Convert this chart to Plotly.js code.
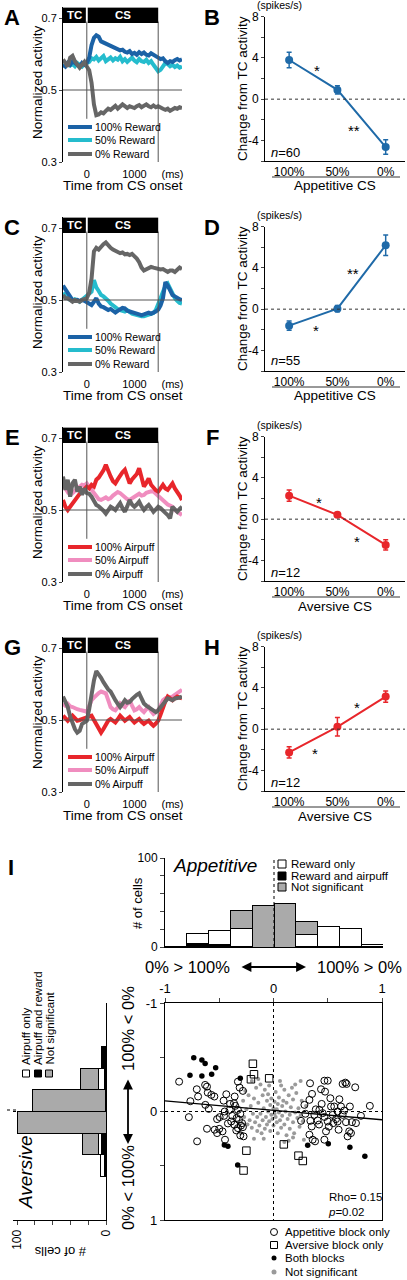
<!DOCTYPE html>
<html><head><meta charset="utf-8">
<script src="https://cdn.plot.ly/plotly-3.0.1.min.js"></script>
<style>html,body{margin:0;padding:0;background:#fff;}#chart{width:407px;height:1280px;}</style>
</head><body><div id="chart"></div>
<script>
// ---------- DATA ----------
const t = [-500,-450,-400,-350,-300,-250,-200,-150,-100,-50,0,50,100,150,200,250,300,350,400,450,500,550,600,650,700,750,800,850,900,950,1000,1050,1100,1150,1200,1250,1300,1350,1400,1450,1500,1550,1600,1650,1700,1750,1800,1850,1900,1950,2000];

const A_reward100 = [.57,.565,.575,.57,.58,.575,.57,.565,.575,.57,.575,.59,.625,.645,.652,.648,.635,.632,.628,.625,.622,.62,.618,.615,.61,.612,.606,.604,.608,.6,.603,.598,.605,.6,.604,.598,.596,.602,.597,.594,.59,.586,.588,.58,.575,.58,.578,.583,.586,.582,.585];
const A_reward50 = [.565,.57,.575,.568,.572,.566,.575,.57,.565,.572,.575,.578,.588,.585,.592,.582,.588,.594,.58,.586,.59,.582,.588,.584,.592,.58,.586,.578,.585,.59,.582,.577,.586,.58,.578,.584,.575,.58,.57,.562,.552,.556,.568,.575,.572,.566,.57,.564,.568,.562,.565];
const A_reward0 = [.585,.575,.565,.59,.595,.58,.572,.562,.57,.578,.565,.555,.52,.46,.43,.432,.438,.435,.442,.448,.445,.452,.456,.448,.455,.46,.455,.45,.455,.452,.45,.455,.458,.452,.456,.46,.455,.452,.457,.452,.455,.45,.448,.445,.448,.442,.445,.45,.448,.452,.45];

const C_reward100 = [.54,.53,.52,.51,.5,.498,.5,.497,.5,.498,.495,.49,.486,.495,.505,.49,.482,.48,.477,.472,.475,.468,.465,.47,.474,.478,.477,.47,.468,.465,.464,.462,.46,.458,.46,.462,.465,.462,.464,.468,.473,.485,.505,.55,.54,.525,.514,.51,.505,.502,.5];
const C_reward50 = [.52,.51,.505,.5,.498,.502,.5,.495,.5,.505,.51,.515,.523,.555,.535,.525,.514,.51,.505,.498,.49,.485,.477,.475,.472,.47,.468,.472,.466,.462,.46,.458,.456,.455,.455,.458,.46,.462,.464,.472,.486,.505,.523,.538,.545,.53,.514,.505,.498,.492,.49];
const C_reward0 = [.514,.505,.505,.498,.495,.5,.497,.495,.5,.502,.505,.52,.56,.635,.645,.64,.65,.655,.66,.65,.645,.64,.636,.633,.63,.632,.627,.628,.625,.628,.623,.615,.605,.59,.582,.585,.59,.592,.59,.588,.586,.585,.586,.582,.578,.582,.582,.578,.585,.59,.586];

const E_airpuff100 = [.528,.509,.5,.51,.519,.53,.537,.545,.551,.56,.565,.56,.57,.565,.584,.59,.598,.61,.626,.605,.593,.58,.574,.585,.598,.605,.612,.59,.574,.585,.593,.6,.616,.585,.565,.575,.588,.57,.56,.555,.551,.56,.57,.56,.556,.565,.574,.56,.547,.54,.528];
const E_airpuff50 = [.565,.56,.55,.555,.547,.552,.56,.565,.57,.568,.574,.565,.556,.545,.537,.53,.528,.532,.535,.53,.533,.54,.545,.55,.547,.54,.535,.53,.528,.533,.537,.54,.545,.54,.542,.548,.55,.552,.551,.545,.537,.532,.528,.52,.515,.512,.509,.5,.495,.49,.486];
const E_airpuff0 = [.593,.556,.584,.537,.574,.584,.551,.565,.542,.56,.547,.545,.537,.525,.514,.51,.505,.498,.49,.5,.509,.505,.5,.51,.519,.505,.495,.51,.528,.515,.509,.515,.523,.51,.5,.508,.514,.505,.495,.502,.509,.505,.5,.492,.486,.477,.509,.5,.495,.503,.509];

const G_airpuff100 = [.512,.505,.498,.505,.512,.505,.498,.5,.503,.506,.508,.51,.512,.5,.489,.475,.465,.475,.489,.498,.503,.498,.493,.502,.512,.505,.498,.503,.508,.5,.493,.498,.503,.495,.489,.494,.498,.49,.484,.49,.498,.515,.536,.552,.565,.56,.555,.56,.565,.562,.56];
const G_airpuff50 = [.546,.54,.545,.538,.536,.532,.53,.528,.527,.525,.522,.54,.555,.562,.57,.575,.579,.576,.574,.555,.536,.53,.527,.535,.546,.54,.536,.545,.555,.54,.527,.53,.536,.528,.522,.53,.536,.525,.517,.522,.527,.54,.555,.56,.562,.565,.565,.57,.575,.58,.584];
const G_airpuff0 = [.565,.55,.536,.51,.489,.475,.465,.47,.489,.495,.498,.53,.574,.61,.636,.628,.617,.605,.593,.585,.579,.565,.555,.545,.536,.545,.555,.548,.55,.558,.565,.57,.574,.56,.546,.54,.536,.53,.527,.522,.527,.535,.541,.55,.56,.558,.555,.56,.56,.562,.565];

const csCats = ['100%','50%','0%'];
const B_mean = [3.8,0.9,-4.65],  B_err = [0.76,0.4,0.7];
const D_mean = [-1.6,0.05,6.2],  D_err = [0.45,0.3,1.0];
const F_mean = [2.28,0.42,-2.5], F_err = [0.55,0.2,0.5];
const H_mean = [-2.26,0.23,3.16],H_err = [0.55,0.9,0.55];

const binCenters = [-0.9,-0.7,-0.5,-0.3,-0.1,0.1,0.3,0.5,0.7,0.9];
const app_rewardAirpuff = [0,4,3,1,0,0,1,1,1,1];
const app_rewardOnly    = [0,11,15,20,0,0,13,22,20,2];
const app_notSig        = [1,0,0,20,47,49,15,0,0,0];
const av_airpuffReward  = [0,0,5,2,1,0,5,2,0,0];
const av_airpuffOnly    = [0,0,0,6,0,0,3,4,0,0];
const av_notSig         = [0,0,0,21,82,100,18,0,0,0];

const appOnly_x = [-0.87,-0.766,-0.78,-0.707,-0.695,-0.63,-0.613,-0.606,-0.573,-0.545,-0.628,-0.597,-0.704,-0.613,-0.542,-0.52,-0.52,-0.496,-0.456,-0.45,-0.47,-0.447,-0.435,-0.46,-0.404,-0.39,-0.364,-0.352,-0.361,-0.343,-0.328,-0.312,-0.282,-0.328,-0.306,-0.318,-0.29,-0.282,-0.328,-0.306,-0.276,-0.358,-0.42,-0.5,-0.38,-0.34,-0.3,-0.4,
  0.337,0.469,0.5,0.438,0.475,0.355,0.331,0.285,0.294,0.254,0.34,0.377,0.352,0.331,0.361,0.383,0.407,0.423,0.444,0.453,0.469,0.484,0.5,0.524,0.53,0.545,0.551,0.576,0.591,0.6,0.607,0.622,0.637,0.662,0.674,0.652,0.668,0.683,0.698,0.704,0.714,0.723,0.753,0.76,0.806,0.888,0.591,0.56,0.637,0.42,0.39,0.47,0.51];
const appOnly_y = [-0.275,-0.095,0.052,-0.205,-0.138,-0.245,-0.229,-0.174,-0.153,-0.138,-0.061,-0.024,0.275,0.159,0.168,0.199,0.07,0.052,0.04,0.0,0.183,0.26,-0.159,-0.1,-0.015,0.092,-0.076,-0.052,0.122,0.174,-0.275,-0.22,-0.19,-0.015,0.021,0.076,0.107,0.144,0.153,0.22,0.229,-0.138,0.11,0.16,0.04,0.06,0.13,-0.07,
  -0.26,-0.284,-0.284,-0.205,-0.183,-0.162,-0.107,-0.061,0.021,0.086,0.086,0.031,0.138,0.214,0.26,0.275,0.083,-0.015,-0.07,0.015,0.26,0.183,0.092,-0.122,-0.046,0.031,0.107,0.07,0.0,0.168,-0.113,-0.046,-0.254,-0.266,-0.254,-0.009,0.098,0.229,0.183,-0.046,0.199,0.098,-0.223,0.107,0.04,-0.052,0.092,-0.046,0.031,0.12,-0.02,0.05,0.14];
const avOnly_x = [-0.19,-0.18,-0.208,-0.04,-0.25,-0.276,0.095,0.23,0.27];
const avOnly_y = [-0.44,-0.343,-0.297,-0.306,0.361,0.544,0.303,0.407,0.456];
const both_x = [-0.735,-0.66,-0.63,-0.77,-0.66,-0.57,-0.533,-0.306,-0.453,-0.42,-0.33,0.315,0.505,0.704,0.842];
const both_y = [-0.495,-0.474,-0.443,-0.333,-0.327,-0.343,-0.404,-0.306,0.309,0.321,0.492,0.312,0.297,0.33,0.413];
const ns_x = [-0.28,-0.27,-0.25,-0.24,-0.23,-0.22,-0.21,-0.2,-0.19,-0.18,-0.17,-0.16,-0.15,-0.15,-0.14,-0.13,-0.12,-0.12,-0.11,-0.1,-0.1,-0.09,-0.08,-0.08,-0.07,-0.06,-0.06,-0.05,-0.05,-0.04,-0.03,-0.03,-0.02,-0.02,-0.01,0,0,0.01,0.01,0.02,0.02,0.03,0.03,0.04,0.04,0.05,0.05,0.06,0.07,0.07,0.08,0.08,0.09,0.1,0.1,0.11,0.12,0.12,0.13,0.14,0.15,0.15,0.16,0.17,0.18,0.18,0.19,0.2,0.21,0.22,0.23,0.24,0.25,0.25,0.26,0.27,0.28,-0.26,-0.2,-0.14,-0.09,0.06,0.14,0.2,-0.3,0.3,-0.18,0.1,-0.04,0.18];
const ns_y = [-0.1,0.05,-0.02,0.12,-0.15,0.08,-0.05,0.15,0.02,-0.12,0.1,-0.22,0.05,0.18,-0.08,0.13,-0.25,0.02,0.2,-0.15,0.08,-0.03,0.16,-0.2,0.05,-0.1,0.12,0,-0.16,0.09,-0.06,0.18,0.03,-0.12,0.07,-0.03,0.13,-0.09,0.02,0.05,-0.18,0.1,-0.02,0.2,-0.07,0.01,-0.13,0.08,-0.24,0.15,-0.05,0.04,-0.1,0.12,-0.2,0,0.22,-0.08,0.07,-0.15,0.03,0.16,-0.04,-0.22,0.1,-0.11,0.2,0.01,-0.17,0.06,-0.03,0.14,-0.28,0.04,-0.1,0.09,0.26,-0.19,-0.28,-0.3,0.25,-0.28,0.27,-0.25,0.2,-0.05,0.25,0.28,-0.24,0.24];
const fit_x = [-1, 1];
const fit_y = [-0.098, 0.076];

// ---------- HELPERS ----------
const W = 407, H = 1280;
const px = x => x / W, py = y => 1 - y / H;
const FONT = 'Liberation Sans, Arial, sans-serif';
const BLUE = '#1b62a6', CYAN = '#25bccd', GRAY = '#666666', RED = '#e8262b', PINK = '#f08dbf', LBLUE = '#1f6aa8';
const traces = [], shapes = [], annotations = [];
const layout = {width: W, height: H, margin: {l:0,r:0,t:0,b:0}, paper_bgcolor:'#fff', plot_bgcolor:'rgba(0,0,0,0)',
  font: {family: FONT, color: '#000', size: 11}, showlegend: false, barmode: 'stack', bargap: 0};
const an = (i) => i === 1 ? '' : String(i);
function ann(x, y, text, o) { annotations.push(Object.assign({xref:'paper', yref:'paper', x:px(x), y:py(y), text, showarrow:false, xanchor:'center', yanchor:'middle', font:{size:11}}, o || {})); }
function pline(x0, y0, x1, y1, color, width, dash) { shapes.push({type:'line', xref:'paper', yref:'paper', x0:px(x0), y0:py(y0), x1:px(x1), y1:py(y1), line:{color, width, dash: dash || 'solid'}}); }
function prect(x0, y0, x1, y1, fill) { shapes.push({type:'rect', xref:'paper', yref:'paper', x0:px(x0), y0:py(y0), x1:px(x1), y1:py(y1), fillcolor:fill, line:{color:'#000', width:1}}); }

// ---------- TIME-COURSE PANELS ----------
function tsPanel(i, k, letter, series, colors, names) {
  const dy = 210 * k, a = an(i);
  layout['xaxis' + a] = {domain:[px(63), px(182)], range:[-500, 2000], anchor:'y' + a, showline:false, showgrid:false, zeroline:false,
    tickvals:[0, 1000, 1800], ticktext:['0', '1000', '(ms)'], ticks:'outside', ticklen:2, tickcolor:'rgba(0,0,0,0)', tickfont:{size:11}};
  layout['yaxis' + a] = {domain:[py(162 + dy), py(7.2 + dy)], range:[0.3, 0.73], anchor:'x' + a, showline:true, linecolor:'#000', linewidth:1,
    ticks:'outside', ticklen:3, tickvals:[0.3, 0.5, 0.7], ticktext:['0.3', '0.5', '0.7'], showgrid:false, zeroline:false, tickfont:{size:11}};
  const xr = 'x' + a, yr = 'y' + a;
  shapes.push({type:'line', xref:xr, yref:yr, x0:-500, x1:2000, y0:0.5, y1:0.5, line:{color:'#555', width:1}});
  shapes.push({type:'line', xref:xr, yref:yr, x0:0, x1:0, y0:0.42, y1:0.69, line:{color:'#555', width:1}});
  shapes.push({type:'line', xref:xr, yref:yr, x0:1500, x1:1500, y0:0.3, y1:0.69, line:{color:'#555', width:1}});
  [0, 1, 2].forEach(j => {
    traces.push({type:'scatter', mode:'lines', x:t, y:series[j], xaxis:xr, yaxis:yr, line:{color:colors[j], width:4}, hoverinfo:'skip'});
  });
  shapes.push({type:'rect', xref:xr, yref:yr, x0:-500, x1:-20, y0:0.686, y1:0.729, fillcolor:'#000', line:{width:0}});
  shapes.push({type:'rect', xref:xr, yref:yr, x0:20, x1:1500, y0:0.686, y1:0.729, fillcolor:'#000', line:{width:0}});
  annotations.push({xref:xr, yref:yr, x:-250, y:0.7075, text:'<b>TC</b>', showarrow:false, font:{size:11.5, color:'#fff'}});
  annotations.push({xref:xr, yref:yr, x:760, y:0.7075, text:'<b>CS</b>', showarrow:false, font:{size:11.5, color:'#fff'}});
  const order = [1, 0, 2]; // series passed as [50,100,0]
  [127, 140, 154].forEach((yy, r) => {
    pline(68, yy + dy, 92, yy + dy, colors[order[r]], 4);
    ann(93, yy + dy, names[r], {xanchor:'left', font:{size:10.5}});
  });
  ann(12, 17 + dy, '<b>' + letter + '</b>', {font:{size:22}});
  ann(37, 82 + dy, 'Normalized activity', {textangle:-90, font:{size:13.5}});
  ann(123, 185 + dy, 'Time from CS onset', {font:{size:13.5}});
}

// ---------- CHANGE PANELS ----------
function chPanel(i, k, letter, mean, err, color, n, stars, xlab) {
  const dy = 210 * k, a = an(i);
  layout['xaxis' + a] = {domain:[px(265), px(405)], type:'category', range:[-0.5, 2.4], anchor:'y' + a, showline:true, linecolor:'#000', linewidth:1,
    ticks:'', tickfont:{size:12}, showgrid:false, zeroline:false};
  layout['yaxis' + a] = {domain:[py(161 + dy), py(16.7 + dy)], range:[-6, 8], anchor:'x' + a, showline:true, linecolor:'#000', linewidth:1,
    ticks:'outside', ticklen:3, tickvals:[-6,-4,-2,0,2,4,6,8], ticktext:['','-4','','0','','4','','8'], tickfont:{size:12}, showgrid:false, zeroline:false};
  shapes.push({type:'line', xref:'paper', yref:'y' + a, x0:px(265), x1:px(405), y0:0, y1:0, line:{color:'#333', width:1, dash:'dot'}});
  traces.push({type:'scatter', mode:'lines+markers', x:csCats, y:mean, xaxis:'x' + a, yaxis:'y' + a,
    line:{color, width:2}, marker:{color, size:8},
    error_y:{type:'data', array:err, visible:true, color, thickness:1.5, width:2.5}, hoverinfo:'skip'});
  stars.forEach(s => ann(s[0], s[1] + 3 + dy, s[2], {font:{size:15}}));
  ann(269, 152 + dy + (k === 1 ? -2 : 0), '<i>n</i>=' + n, {xanchor:'left', font:{size:13}});
  pline(272, 177 + dy, 400, 177 + dy, '#333', 1);
  ann(335, 186 + dy, xlab, {font:{size:13.5}});
  ann(212, 17 + dy, '<b>' + letter + '</b>', {font:{size:22}});
  ann(279, 5 + dy, '(spikes/s)', {font:{size:10.5}});
  ann(242, 89 + dy, 'Change from TC activity', {textangle:-90, font:{size:13.5}});
}

tsPanel(1, 0, 'A', [A_reward50, A_reward100, A_reward0], [CYAN, BLUE, GRAY], ['100% Reward', '50% Reward', '0% Reward']);
chPanel(2, 0, 'B', B_mean, B_err, LBLUE, 60, [[317,67,'*'],[354,128,'**']], 'Appetitive CS');
tsPanel(3, 1, 'C', [C_reward50, C_reward100, C_reward0], [CYAN, BLUE, GRAY], ['100% Reward', '50% Reward', '0% Reward']);
chPanel(4, 1, 'D', D_mean, D_err, LBLUE, 55, [[316,117,'*'],[353,60,'**']], 'Appetitive CS');
tsPanel(5, 2, 'E', [E_airpuff50, E_airpuff100, E_airpuff0], [PINK, RED, GRAY], ['100% Airpuff', '50% Airpuff', '0% Airpuff']);
chPanel(6, 2, 'F', F_mean, F_err, RED, 12, [[319,79,'*'],[357,118,'*']], 'Aversive CS');
tsPanel(7, 3, 'G', [G_airpuff50, G_airpuff100, G_airpuff0], [PINK, RED, GRAY], ['100% Airpuff', '50% Airpuff', '0% Airpuff']);
chPanel(8, 3, 'H', H_mean, H_err, RED, 12, [[315,120,'*'],[357,74,'*']], 'Aversive CS');

// ---------- PANEL I ----------
layout.xaxis9 = {domain:[px(165), px(383)], range:[-1, 1], anchor:'y9', showline:true, linecolor:'#000', linewidth:1.2, ticks:'', showticklabels:false, showgrid:false, zeroline:false};
layout.yaxis9 = {domain:[py(947), py(858)], range:[0, 100], anchor:'x9', showline:true, linecolor:'#000', linewidth:1, ticks:'outside', ticklen:4,
  tickvals:[0,20,40,60,80,100], ticktext:['0','','','','','100'], tickfont:{size:12}, showgrid:false, zeroline:false};
const barLine = {color:'#000', width:1};
traces.push({type:'bar', x:binCenters, y:app_rewardAirpuff, width:0.2, xaxis:'x9', yaxis:'y9', marker:{color:'#000', line:barLine}, hoverinfo:'skip'});
traces.push({type:'bar', x:binCenters, y:app_rewardOnly, width:0.2, xaxis:'x9', yaxis:'y9', marker:{color:'#fff', line:barLine}, hoverinfo:'skip'});
traces.push({type:'bar', x:binCenters, y:app_notSig, width:0.2, xaxis:'x9', yaxis:'y9', marker:{color:'#aaaaaa', line:barLine}, hoverinfo:'skip'});
shapes.push({type:'line', xref:'x9', yref:'y9', x0:0, x1:0, y0:0, y1:106, line:{color:'#000', width:1, dash:'dot'}});

layout.xaxis10 = {domain:[px(13), px(106)], range:[104.5, 0], anchor:'y10', showline:true, linecolor:'#000', linewidth:1, ticks:'outside', ticklen:4,
  tickvals:[0,20,40,60,80,100], ticktext:['0','','','','','100'], tickangle:-90, tickfont:{size:12}, showgrid:false, zeroline:false};
layout.yaxis10 = {domain:[py(1220), py(1003)], range:[1, -1], anchor:'x10', side:'right', showline:true, linecolor:'#000', linewidth:1.2, ticks:'', showticklabels:false, showgrid:false, zeroline:false};
traces.push({type:'bar', orientation:'h', y:binCenters, x:av_airpuffReward, width:0.2, xaxis:'x10', yaxis:'y10', marker:{color:'#000', line:barLine}, hoverinfo:'skip'});
traces.push({type:'bar', orientation:'h', y:binCenters, x:av_airpuffOnly, width:0.2, xaxis:'x10', yaxis:'y10', marker:{color:'#fff', line:barLine}, hoverinfo:'skip'});
traces.push({type:'bar', orientation:'h', y:binCenters, x:av_notSig, width:0.2, xaxis:'x10', yaxis:'y10', marker:{color:'#aaaaaa', line:barLine}, hoverinfo:'skip'});
shapes.push({type:'line', xref:'x10', yref:'y10', x0:0, x1:106, y0:0, y1:0, line:{color:'#000', width:1, dash:'dot'}});

layout.xaxis11 = {domain:[px(165), px(382)], range:[-1, 1], anchor:'y11', side:'top', showline:true, mirror:true, linecolor:'#000', linewidth:1.2,
  ticks:'outside', ticklen:4, tickvals:[-1,-0.5,0,0.5,1], ticktext:['-1','','0','','1'], tickfont:{size:13}, showgrid:false, zeroline:false};
layout.yaxis11 = {domain:[py(1220), py(1003)], range:[1, -1], anchor:'x11', showline:true, mirror:true, linecolor:'#000', linewidth:1.2,
  ticks:'outside', ticklen:4, tickvals:[-1,-0.5,0,0.5,1], ticktext:['-1','','0','','1'], tickfont:{size:13}, showgrid:false, zeroline:false};
shapes.push({type:'line', xref:'x11', yref:'y11', x0:0, x1:0, y0:-1, y1:1, line:{color:'#000', width:1, dash:'dot'}});
shapes.push({type:'line', xref:'x11', yref:'y11', x0:-1, x1:1, y0:0, y1:0, line:{color:'#000', width:1, dash:'dot'}});
traces.push({type:'scatter', mode:'markers', x:ns_x, y:ns_y, xaxis:'x11', yaxis:'y11', marker:{color:'#9a9a9a', size:4}, hoverinfo:'skip'});
traces.push({type:'scatter', mode:'markers', x:appOnly_x, y:appOnly_y, xaxis:'x11', yaxis:'y11', marker:{symbol:'circle-open', color:'#000', size:7, line:{width:1}}, hoverinfo:'skip'});
traces.push({type:'scatter', mode:'markers', x:avOnly_x, y:avOnly_y, xaxis:'x11', yaxis:'y11', marker:{symbol:'square-open', color:'#000', size:7.5, line:{width:1}}, hoverinfo:'skip'});
traces.push({type:'scatter', mode:'markers', x:both_x, y:both_y, xaxis:'x11', yaxis:'y11', marker:{color:'#000', size:5.5}, hoverinfo:'skip'});
traces.push({type:'scatter', mode:'lines', x:fit_x, y:fit_y, xaxis:'x11', yaxis:'y11', line:{color:'#000', width:1.3}, hoverinfo:'skip'});

ann(11, 867, '<b>I</b>', {font:{size:22}});
ann(137, 903, '# of cells', {textangle:-90, font:{size:13}});
ann(215, 865, '<i>Appetitive</i>', {font:{size:19}});
[['Reward only','#fff',864],['Reward and airpuff','#000',876],['Not significant','#aaaaaa',887]].forEach(r => {
  prect(278, r[2] + 4, 286, r[2] - 4, r[1]);
  ann(289, r[2], r[0], {xanchor:'left', font:{size:11.5}});
});
ann(187, 967, '0% > 100%', {font:{size:16.5}});
ann(359, 967, '100% > 0%', {font:{size:16.5}});
annotations.push({xref:'paper', yref:'paper', x:px(306), y:py(967), ax:-66, ay:0, text:'', showarrow:true, arrowhead:2, arrowside:'end+start', arrowsize:1.1, arrowwidth:1.8, arrowcolor:'#000'});
ann(128, 1029, '100% < 0%', {textangle:-90, font:{size:16.5}});
ann(128, 1188, '0% < 100%', {textangle:-90, font:{size:16.5}});
annotations.push({xref:'paper', yref:'paper', x:px(128), y:py(1144), ax:0, ay:-66, text:'', showarrow:true, arrowhead:2, arrowside:'end+start', arrowsize:1.1, arrowwidth:1.8, arrowcolor:'#000'});
ann(25, 1172, '<i>Aversive</i>', {textangle:-90, font:{size:19}});
ann(60, 1252, '# of cells', {textangle:180, font:{size:13}});
[['Airpuff only','#fff',26],['Airpuff and reward','#000',38],['Not significant','#aaaaaa',49]].forEach(r => {
  prect(r[2] - 3.5, 1077, r[2] + 3.5, 1070, r[1]);
  ann(r[2], 1067, r[0], {textangle:-90, yanchor:'bottom', font:{size:11.5}});
});
pline(7, 1110, 17, 1110, '#000', 1, 'dot');
ann(326, 1204, 'Rho= 0.15<br><i>p</i>=0.02', {xanchor:'left', align:'left', font:{size:11.5}});
shapes.push({type:'circle', xref:'paper', yref:'paper', x0:px(270.5), x1:px(277.5), y0:py(1235.5), y1:py(1228.5), line:{color:'#000', width:1}, fillcolor:'#fff'});
prect(270.5, 1248.5, 277.5, 1241.5, '#fff');
shapes.push({type:'circle', xref:'paper', yref:'paper', x0:px(271.5), x1:px(276.5), y0:py(1260.5), y1:py(1255.5), line:{color:'#000', width:0}, fillcolor:'#000'});
shapes.push({type:'circle', xref:'paper', yref:'paper', x0:px(271.5), x1:px(276.5), y0:py(1274.5), y1:py(1269.5), line:{color:'#9a9a9a', width:0}, fillcolor:'#9a9a9a'});
[['Appetitive block only',1232],['Aversive block only',1245],['Both blocks',1258],['Not significant',1272]].forEach(r => ann(283, r[1], r[0], {xanchor:'left', font:{size:11.5}}));

layout.shapes = shapes;
layout.annotations = annotations;
Plotly.newPlot('chart', traces, layout, {staticPlot:true, displayModeBar:false});
</script></body></html>
